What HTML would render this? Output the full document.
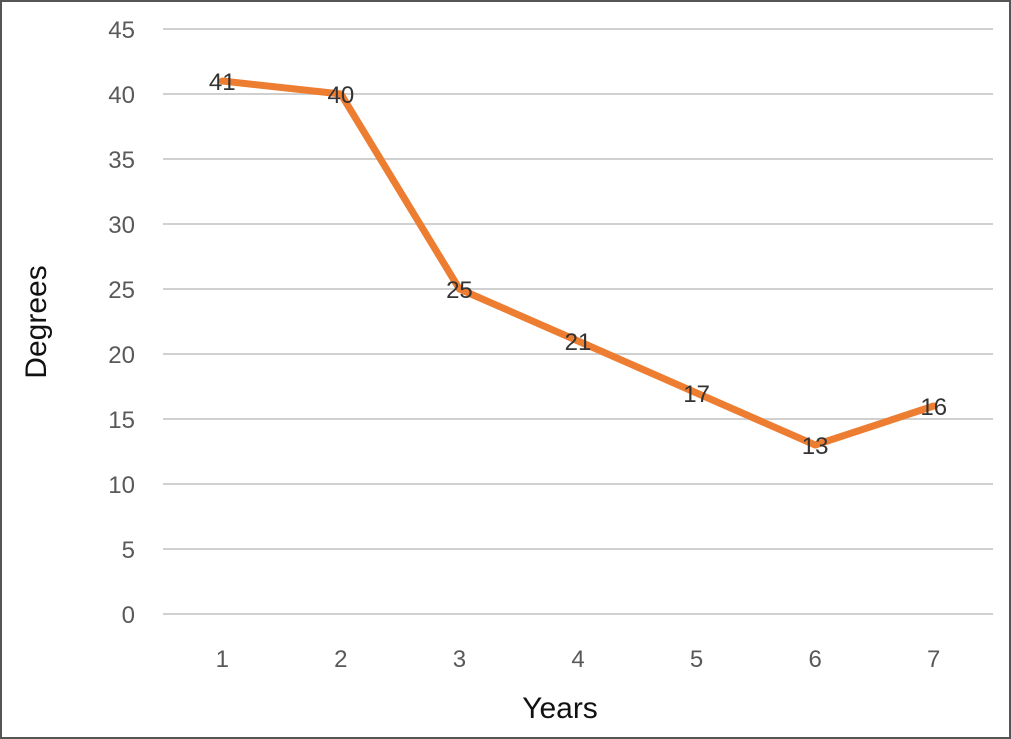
<!DOCTYPE html>
<html><head><meta charset="utf-8"><style>
html,body{margin:0;padding:0;background:#fff}
svg{display:block;font-family:"Liberation Sans",sans-serif}
</style></head><body>
<svg width="1011" height="739">
<rect x="1" y="1" width="1009" height="737" fill="#fff" stroke="#555" stroke-width="2"/>
<g id="grid"></g><g id="ylab"></g><g id="xlab"></g><g id="series"></g><g id="dlab"></g>
<text x="560" y="718" text-anchor="middle" font-size="30" fill="#111">Years</text>
<text transform="translate(46,322) rotate(-90)" text-anchor="middle" font-size="30" fill="#111">Degrees</text>
</svg>
<script>
const categories=["1","2","3","4","5","6","7"];
const values=[41,40,25,21,17,13,16];
const yTicks=[0,5,10,15,20,25,30,35,40,45];
const NS="http://www.w3.org/2000/svg";
const x0=163,x1=993,y0=614,y45=29;
const step=(x1-x0)/categories.length;
function xs(i){return x0+(i+0.5)*step;}
function ys(v){return y0-(v/45)*(y0-y45);}
function mk(t,a,p){const e=document.createElementNS(NS,t);for(const k in a)e.setAttribute(k,a[k]);p.appendChild(e);return e;}
const grid=document.getElementById('grid'),yl=document.getElementById('ylab'),xl=document.getElementById('xlab'),se=document.getElementById('series'),dl=document.getElementById('dlab');
yTicks.forEach(v=>{
 const l=mk('line',{x1:x0,x2:x1,y1:ys(v),y2:ys(v),stroke:'#d0d0d0','stroke-width':2},grid);
 
 
 const t=mk('text',{x:135,y:ys(v)+9,'text-anchor':'end','font-size':24,fill:'#595959'},yl);
 t.textContent=v;
 
 
});
categories.forEach((c,i)=>{
 const t=mk('text',{x:xs(i),y:667,'text-anchor':'middle','font-size':24,fill:'#595959'},xl);
 t.textContent=c;
 
 
});
const pl=mk('polyline',{points:values.map((v,i)=>xs(i)+','+ys(v)).join(' '),fill:'none',stroke:'#ED7D31','stroke-width':7,'stroke-linejoin':'round','stroke-linecap':'round'},se);


values.forEach((v,i)=>{
 const t=mk('text',{x:xs(i),y:ys(v)+9,'text-anchor':'middle','font-size':24,fill:'#333'},dl);
 t.textContent=v;
 
 
});
</script>
</body></html>
